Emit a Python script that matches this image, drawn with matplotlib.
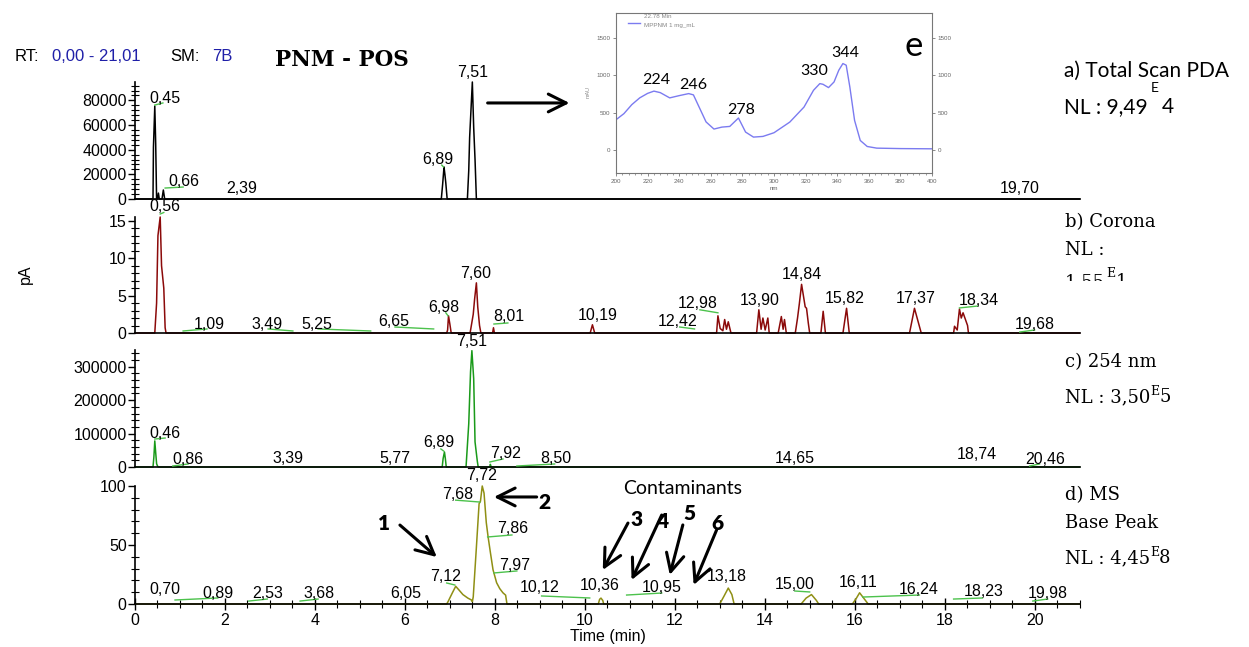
import matplotlib
matplotlib.use('Agg')
import matplotlib.pyplot as plt
from matplotlib.ticker import MultipleLocator, FixedLocator
from matplotlib.transforms import Bbox, TransformedBbox

plt.rcParams['font.family'] = ['Liberation Sans', 'DejaVu Sans']

# ---------------- data ----------------
# a) Total scan PDA (uAU)
pda_time = [0.00, 0.40, 0.41, 0.44, 0.46, 0.48, 0.50, 0.52, 0.54, 0.60, 0.63, 0.66,
            6.81, 6.84, 6.87, 6.89, 6.91, 6.94,
            7.39, 7.42, 7.44, 7.50, 7.53, 7.56, 7.59, 21.0]
pda_signal = [0, 0, 42000, 75400, 45000, 0, 0, 4800, 0, 0, 7300, 0,
              0, 12000, 26000, 20000, 13000, 0,
              0, 23000, 50000, 94900, 58000, 32000, 0, 0]
pda_labels = ["0,45", "0,66", "2,39", "6,89", "7,51", "19,70"]
pda_label_x = [0.67, 1.09, 2.38, 6.73, 7.51, 19.67]
pda_label_y = [81900, 13800, 8900, 32400, 103000, 8900]
pda_leaders = [((0.44, 76200), (0.62, 77900)), ((0.67, 8900), (1.07, 9700)),
               ((6.82, 27500), (6.86, 26000))]

# b) Corona CAD (pA)
cad_time = [0.00, 0.44, 0.48, 0.51, 0.56, 0.59, 0.64, 0.67, 0.69,
            6.93, 6.95, 6.97, 7.00, 7.03,
            7.45, 7.52, 7.55, 7.59, 7.62, 7.66, 7.69,
            7.95, 7.97, 7.99,
            10.12, 10.17, 10.22,
            12.93, 12.96, 13.01, 13.07, 13.11, 13.15, 13.19, 13.25,
            13.82, 13.87, 13.92, 13.96, 14.01, 14.07, 14.10,
            14.30, 14.37, 14.41, 14.44, 14.48,
            14.68, 14.73, 14.77, 14.82, 14.86, 14.90, 14.93, 14.97, 15.00,
            15.25, 15.30, 15.35,
            15.74, 15.82, 15.88,
            17.22, 17.33, 17.48,
            18.20, 18.22, 18.28, 18.33, 18.37, 18.41, 18.51, 18.53, 21.0]
cad_signal = [0, 0, 4, 13, 15.5, 9, 6, 0.7, 0,
              0, 0.4, 2.3, 1.2, 0,
              0, 2.5, 4.5, 6.7, 3.5, 1.0, 0,
              0, 0.7, 0,
              0, 1.1, 0,
              0, 2.3, 0.6, 0.3, 1.8, 0.5, 1.5, 0,
              0, 3.1, 0.5, 2.0, 0.4, 2.0, 0,
              0, 2.2, 0.5, 1.8, 0,
              0, 2.0, 3.9, 6.5, 5.0, 3.5, 3.3, 1.3, 0,
              0, 2.9, 0,
              0, 3.3, 0,
              0, 3.3, 0,
              0, 0.9, 0.4, 3.2, 2.0, 2.7, 1.0, 0, 0]
cad_labels = ["0,56", "1,09", "3,49", "5,25", "6,65", "6,98", "7,60", "8,01", "10,19",
              "12,42", "12,98", "13,90", "14,84", "15,82", "17,37", "18,34", "19,68"]
cad_label_x = [0.67, 1.64, 2.93, 4.04, 5.76, 6.87, 7.58, 8.31, 10.29,
               12.07, 12.51, 13.89, 14.82, 15.78, 17.36, 18.76, 20.0]
cad_label_y = [16.9, 1.2, 1.2, 1.2, 1.47, 3.35, 7.9, 2.14, 2.28,
               1.47, 3.9, 4.4, 7.8, 4.55, 4.55, 4.4, 1.2]
cad_leaders = [((0.56, 15.9), (0.64, 16.1)), ((1.07, 0.27), (1.60, 0.54)),
               ((2.96, 0.54), (3.51, 0.27)), ((4.07, 0.54), (5.24, 0.27)),
               ((5.78, 0.80), (6.64, 0.54)), ((6.91, 2.7), (6.96, 2.3)),
               ((7.98, 1.2), (8.29, 1.34)), ((12.11, 0.8), (12.44, 0.54)),
               ((12.56, 3.1), (12.96, 2.7)), ((18.33, 3.35), (18.73, 3.6)),
               ((19.67, 0.13), (20.0, 0.4))]

# c) 254 nm (uAU)
uv_time = [0.00, 0.40, 0.42, 0.44, 0.46, 0.48, 0.50, 0.52,
           6.83, 6.85, 6.88, 6.90, 6.92,
           7.36, 7.42, 7.46, 7.49, 7.53, 7.56, 7.61, 7.63,
           7.89, 7.90, 7.92, 21.0]
uv_signal = [0, 0, 30000, 78000, 43000, 10000, 3000, 0,
             0, 25000, 45000, 25000, 0,
             0, 129000, 285000, 348000, 264000, 75000, 18000, 0,
             0, 8000, 0, 0]
uv_labels = ["7,51", "0,46", "0,86", "3,39", "5,77", "6,89", "7,92", "8,50",
             "14,65", "18,74", "20,46"]
uv_label_x = [7.49, 0.67, 1.18, 3.40, 5.78, 6.76, 8.24, 9.36, 14.67, 18.71, 20.24]
uv_label_y = [374000, 101700, 23900, 26900, 26900, 71800, 38900, 26900,
              26900, 35900, 23900]
uv_leaders = [((0.44, 83700), (0.67, 86700)), ((0.84, 3000), (1.18, 9000)),
              ((6.80, 54000), (6.86, 48000)), ((7.89, 15000), (8.18, 24000)),
              ((8.49, 3000), (9.33, 9000)), ((19.89, 3000), (20.11, 9000))]

# d) MS base peak (relative abundance)
ms_time = [0.00, 6.93, 6.96, 7.05, 7.13, 7.20, 7.29, 7.40, 7.48, 7.50, 7.52, 7.59,
           7.65, 7.68, 7.72, 7.76, 7.81, 7.85, 7.90, 7.96, 8.04, 8.11, 8.18, 8.24, 8.27,
           10.30, 10.33, 10.36, 10.40, 10.42,
           13.00, 13.10, 13.19, 13.27, 13.32,
           14.81, 14.92, 15.04, 15.15, 15.20,
           15.95, 16.04, 16.11, 16.20, 16.30, 21.0]
ms_signal = [0, 0, 2, 9, 15, 12, 8, 5, 3.4, 2, 6, 48,
             85, 87, 100, 94, 69, 57, 44, 29, 18, 13, 9.5, 7.5, 0,
             0, 4, 5, 3, 0,
             0, 7, 13.5, 8, 0,
             0, 5, 8, 3, 0,
             0, 5, 9.5, 5, 0, 0]
ms_labels = ["7,72", "7,68", "7,86", "7,97", "7,12", "0,70", "0,89", "2,53", "3,68",
             "6,05", "10,12", "10,36", "10,95", "13,18", "15,00", "16,11", "16,24",
             "18,23", "19,98"]
ms_label_x = [7.71, 7.18, 8.40, 8.44, 6.91, 0.67, 1.85, 2.94, 4.09,
              6.02, 9.00, 10.33, 11.71, 13.16, 14.67, 16.07, 17.42, 18.87, 20.29]
ms_label_y = [109, 93.2, 63.6, 33, 22.9, 12.7, 9.3, 9.3, 9.3,
              9.3, 13.6, 16.1, 14.4, 22.9, 16.9, 17.8, 12.7, 10.2, 8.5]
ms_leaders = [((7.13, 88), (7.67, 86.4)), ((7.84, 56.8), (8.38, 58.5)),
              ((7.98, 26.3), (8.49, 28)), ((6.93, 17.8), (7.11, 16.1)),
              ((0.89, 3.4), (1.84, 5.1)), ((2.53, 2.5), (2.94, 4.2)),
              ((3.67, 2.5), (4.07, 4.2)), ((9.04, 6.8), (10.11, 5.1)),
              ((10.93, 7.6), (11.71, 9.3)), ((14.67, 11), (15.0, 10.2)),
              ((16.18, 5.9), (17.44, 7.6)), ((18.20, 4.2), (18.84, 5.1)),
              ((19.96, 2.5), (20.29, 4.2))]
ms_callouts = ["1", "2", "3", "4", "5", "6"]
ms_callout_text = [(5.53, 68.6), (9.11, 85.6), (11.16, 71.2), (11.73, 69.5), (12.33, 77.1), (12.96, 68.6)]
ms_callout_tail = [(5.89, 66.9), (8.93, 90.7), (10.96, 68.6), (11.71, 75.4), (12.18, 67.0), (12.93, 62.7)]
ms_callout_head = [(6.71, 39.8), (7.98, 90.7), (10.40, 28.8), (11.04, 20.3), (11.89, 24.6), (12.42, 16.1)]

# e) UV spectrum of the 7.51 min peak
spec_nm = [200, 205, 210, 215, 220, 224, 228, 234, 240, 246, 249, 253, 257, 262, 267, 272,
           277.5, 282, 287, 293, 300, 310, 319, 325, 329, 331, 334.5, 338, 341, 343.6,
           345.7, 348, 351, 354.6, 359, 365, 380, 400]
spec_mau = [409, 490, 610, 700, 760, 790, 770, 700, 730, 757, 740, 560, 380, 285, 311, 320,
            432, 245, 178, 187, 236, 378, 578, 801, 890, 881, 837, 912, 1068, 1157,
            1135, 845, 400, 133, 53, 31, 25, 22]
spec_labels = ["224", "246", "278", "330", "344"]
spec_label_x = [225.3, 248.7, 279.1, 325.3, 344.9]
spec_label_y = [938, 872, 539, 1058, 1298]

# ---------------- figure ----------------
W, H = 1249, 647
fig = plt.figure(figsize=(W / 100, H / 100), dpi=100)
fig.patch.set_facecolor('white')


def fx(px):
    return px / W


def fy(py):
    return 1 - py / H


def make_ax(top, bottom, left=135, right=1080):
    ax = fig.add_axes([fx(left), fy(bottom), fx(right - left), (bottom - top) / H])
    ax.patch.set_alpha(0)
    return ax


LEAD = '#4cc24c'
LBL = 11.5
ARROW = dict(arrowstyle='->', lw=2.2, color='black', mutation_scale=32,
             shrinkA=0, shrinkB=0)


def style_main(ax, ymax, major, minor, ticks, show_x=False):
    ax.set_xlim(0, 21.01)
    ax.set_ylim(0, ymax)
    for s in ['top', 'right']:
        ax.spines[s].set_visible(False)
    for s in ['left', 'bottom']:
        ax.spines[s].set_linewidth(1.2)
    ax.yaxis.set_major_locator(FixedLocator(ticks))
    ax.yaxis.set_minor_locator(MultipleLocator(minor))
    ax.tick_params(axis='y', which='major', direction='out', length=5, width=1,
                   labelsize=LBL, pad=1)
    ax.tick_params(axis='y', which='minor', direction='inout', length=6, width=0.8)
    if not show_x:
        ax.tick_params(axis='x', which='both', bottom=False, labelbottom=False)


def put_labels(ax, labels, xs, ys, leaders):
    for (p0, p1) in leaders:
        ax.plot([p0[0], p1[0]], [p0[1], p1[1]], color=LEAD, lw=1.0, clip_on=False, zorder=3)
    for t, x, y in zip(labels, xs, ys):
        ax.text(x, y, t, ha='center', va='center', fontsize=LBL, clip_on=False, zorder=4)


# a) PDA
ax_a = make_ax(82, 199)
style_main(ax_a, 94900, 20000, 4000, [0, 20000, 40000, 60000, 80000])
ax_a.plot(pda_time, pda_signal, color='black', lw=1.1, clip_on=False)
put_labels(ax_a, pda_labels, pda_label_x, pda_label_y, pda_leaders)
ax_a.annotate('', xy=(9.66, 77900), xytext=(7.84, 77900), annotation_clip=False,
              arrowprops=ARROW)

# b) Corona
ax_b = make_ax(217, 333)
style_main(ax_b, 15.5, 5, 1, [0, 5, 10, 15])
ax_b.plot(cad_time, cad_signal, color='#8b0a0a', lw=1.1, clip_on=False)
put_labels(ax_b, cad_labels, cad_label_x, cad_label_y, cad_leaders)

# c) 254 nm
ax_c = make_ax(350, 467)
style_main(ax_c, 350000, 100000, 20000, [0, 100000, 200000, 300000])
ax_c.plot(uv_time, uv_signal, color='#1a9a1a', lw=1.1, clip_on=False)
put_labels(ax_c, uv_labels, uv_label_x, uv_label_y, uv_leaders)

# d) MS
ax_d = make_ax(486, 604)
style_main(ax_d, 100, 50, 10, [0, 50, 100], show_x=True)
ax_d.plot(ms_time, ms_signal, color='#8f8f14', lw=1.1, clip_on=False)
put_labels(ax_d, ms_labels, ms_label_x, ms_label_y, ms_leaders)
ax_d.xaxis.set_major_locator(MultipleLocator(2))
ax_d.xaxis.set_minor_locator(MultipleLocator(0.5))
ax_d.tick_params(axis='x', which='major', direction='inout', length=9, width=1,
                 labelsize=LBL, pad=2)
ax_d.tick_params(axis='x', which='minor', direction='inout', length=6, width=0.8)
ax_d.set_xlabel('Time (min)', fontsize=LBL, labelpad=1)
for t, pt, tail, head in zip(ms_callouts, ms_callout_text, ms_callout_tail, ms_callout_head):
    ax_d.text(pt[0], pt[1], t, ha='center', va='center', fontsize=15, fontweight='heavy',
              family='Lato', clip_on=False)
    ax_d.annotate('', xy=head, xytext=tail, annotation_clip=False, arrowprops=ARROW)
ax_d.text(12.18, 98.3, 'Contaminants', ha='center', va='center', fontsize=14,
          family='Lato', clip_on=False)

# e) inset spectrum
ax_e = fig.add_axes([fx(616), fy(173), fx(316), 160 / H])
ax_e.plot(spec_nm, spec_mau, color='#7b7bf0', lw=1.0)
ax_e.set_xlim(200, 400)
ax_e.set_ylim(-300, 1830)
for s in ax_e.spines.values():
    s.set_color('#777777')
    s.set_linewidth(0.8)
ax_e.xaxis.set_major_locator(MultipleLocator(20))
ax_e.xaxis.set_minor_locator(MultipleLocator(4))
ax_e.yaxis.set_major_locator(FixedLocator([0, 500, 1000, 1500]))
ax_e.tick_params(axis='both', which='major', labelsize=4.5, labelcolor='#666666',
                 color='#777777', length=2.5, width=0.6, pad=1.5)
ax_e.tick_params(axis='x', which='minor', length=1.5, width=0.5, color='#777777')
ax_e.tick_params(axis='y', right=True, labelright=True)
ax_e.set_xlabel('nm', fontsize=4.5, color='#666666', labelpad=2)
for t, x, y in zip(spec_labels, spec_label_x, spec_label_y):
    ax_e.text(x, y, t, ha='center', va='center', fontsize=11.5, family='Lato')
ax_e.text(388.6, 1391, 'e', ha='center', va='center', fontsize=25, family='Lato')
ax_e.plot([207.6, 215.2], [1697, 1697], color='#7b7bf0', lw=1.0)
ax_e.text(0.09, 0.975, '22.78 Min', transform=ax_e.transAxes, fontsize=4.5,
          color='#888888', va='center')
ax_e.text(0.09, 0.92, 'MPPNM 1 mg_mL', transform=ax_e.transAxes, fontsize=4.5,
          color='#888888', va='center')
fig.text(fx(588), fy(92), 'mAU', rotation=90, fontsize=4, color='#888888',
         ha='center', va='center')

# ---------------- header and side labels ----------------
BLUE = '#1f1fa8'
fig.text(fx(15), fy(61), 'RT:', fontsize=12, va='baseline')
fig.text(fx(52), fy(61), '0,00 - 21,01', fontsize=12, va='baseline', color=BLUE)
fig.text(fx(170), fy(61), 'SM:', fontsize=12, va='baseline')
fig.text(fx(212), fy(61), '7B', fontsize=12, va='baseline', color=BLUE)
fig.text(fx(342), fy(60), 'PNM - POS', fontsize=15.5, fontweight='bold',
         family='DejaVu Serif', ha='center', va='center')

renderer = fig.canvas.get_renderer()


def sup_line(x_px, base_px, main, sup, tail, family, size, supsize, rise, gap1, gap2, clip=None):
    items = []
    t1 = fig.text(fx(x_px), fy(base_px), main, family=family, fontsize=size, va='baseline')
    items.append(t1)
    bb = t1.get_window_extent(renderer)
    t2 = fig.text((bb.x1 + gap1) / W, fy(base_px - rise), sup, family=family,
                  fontsize=supsize, va='baseline')
    items.append(t2)
    bb2 = t2.get_window_extent(renderer)
    t3 = fig.text((bb2.x1 + gap2) / W, fy(base_px), tail, family=family,
                  fontsize=size, va='baseline')
    items.append(t3)
    if clip is not None:
        for t in items:
            t.set_clip_box(TransformedBbox(Bbox.from_extents(*clip), fig.transFigure))
            t.set_clip_on(True)


SER = 'DejaVu Serif'
fig.text(fx(1064), fy(77), 'a) Total Scan PDA', family='Lato', fontsize=15, va='baseline')
sup_line(1064, 113, 'NL : 9,49', 'E', '4', 'Lato', 15, 10, 21, 3, 3)
fig.text(fx(1065), fy(227), 'b) Corona', family=SER, fontsize=13, va='baseline')
fig.text(fx(1065), fy(255), 'NL :', family=SER, fontsize=13, va='baseline')
sup_line(1065, 287, '1,55', 'E', '1', SER, 13, 9, 10, 1, 1,
         clip=(0.8, fy(281), 1.0, 1.0))
fig.text(fx(1065), fy(367), 'c) 254 nm', family=SER, fontsize=13, va='baseline')
sup_line(1065, 402, 'NL : 3,50', 'E', '5', SER, 13, 9, 7, 0, 0)
fig.text(fx(1065), fy(500), 'd) MS', family=SER, fontsize=13, va='baseline')
fig.text(fx(1065), fy(528), 'Base Peak', family=SER, fontsize=13, va='baseline')
sup_line(1065, 563, 'NL : 4,45', 'E', '8', SER, 13, 9, 7, 0, 0)

# y-axis titles
fig.text(fx(25), fy(274), 'pA', rotation=90, fontsize=11.5, ha='center', va='center')
for yc, y0, y1 in [(140, 120, 160), (410, 390, 430)]:
    t = fig.text(fx(8), fy(yc), 'uAU', rotation=90, fontsize=11.5, ha='center', va='center')
    t.set_clip_box(TransformedBbox(Bbox.from_extents(fx(12), fy(y1), fx(40), fy(y0)),
                                   fig.transFigure))
    t.set_clip_on(True)

fig.savefig('out.png', dpi=100, facecolor='white')
